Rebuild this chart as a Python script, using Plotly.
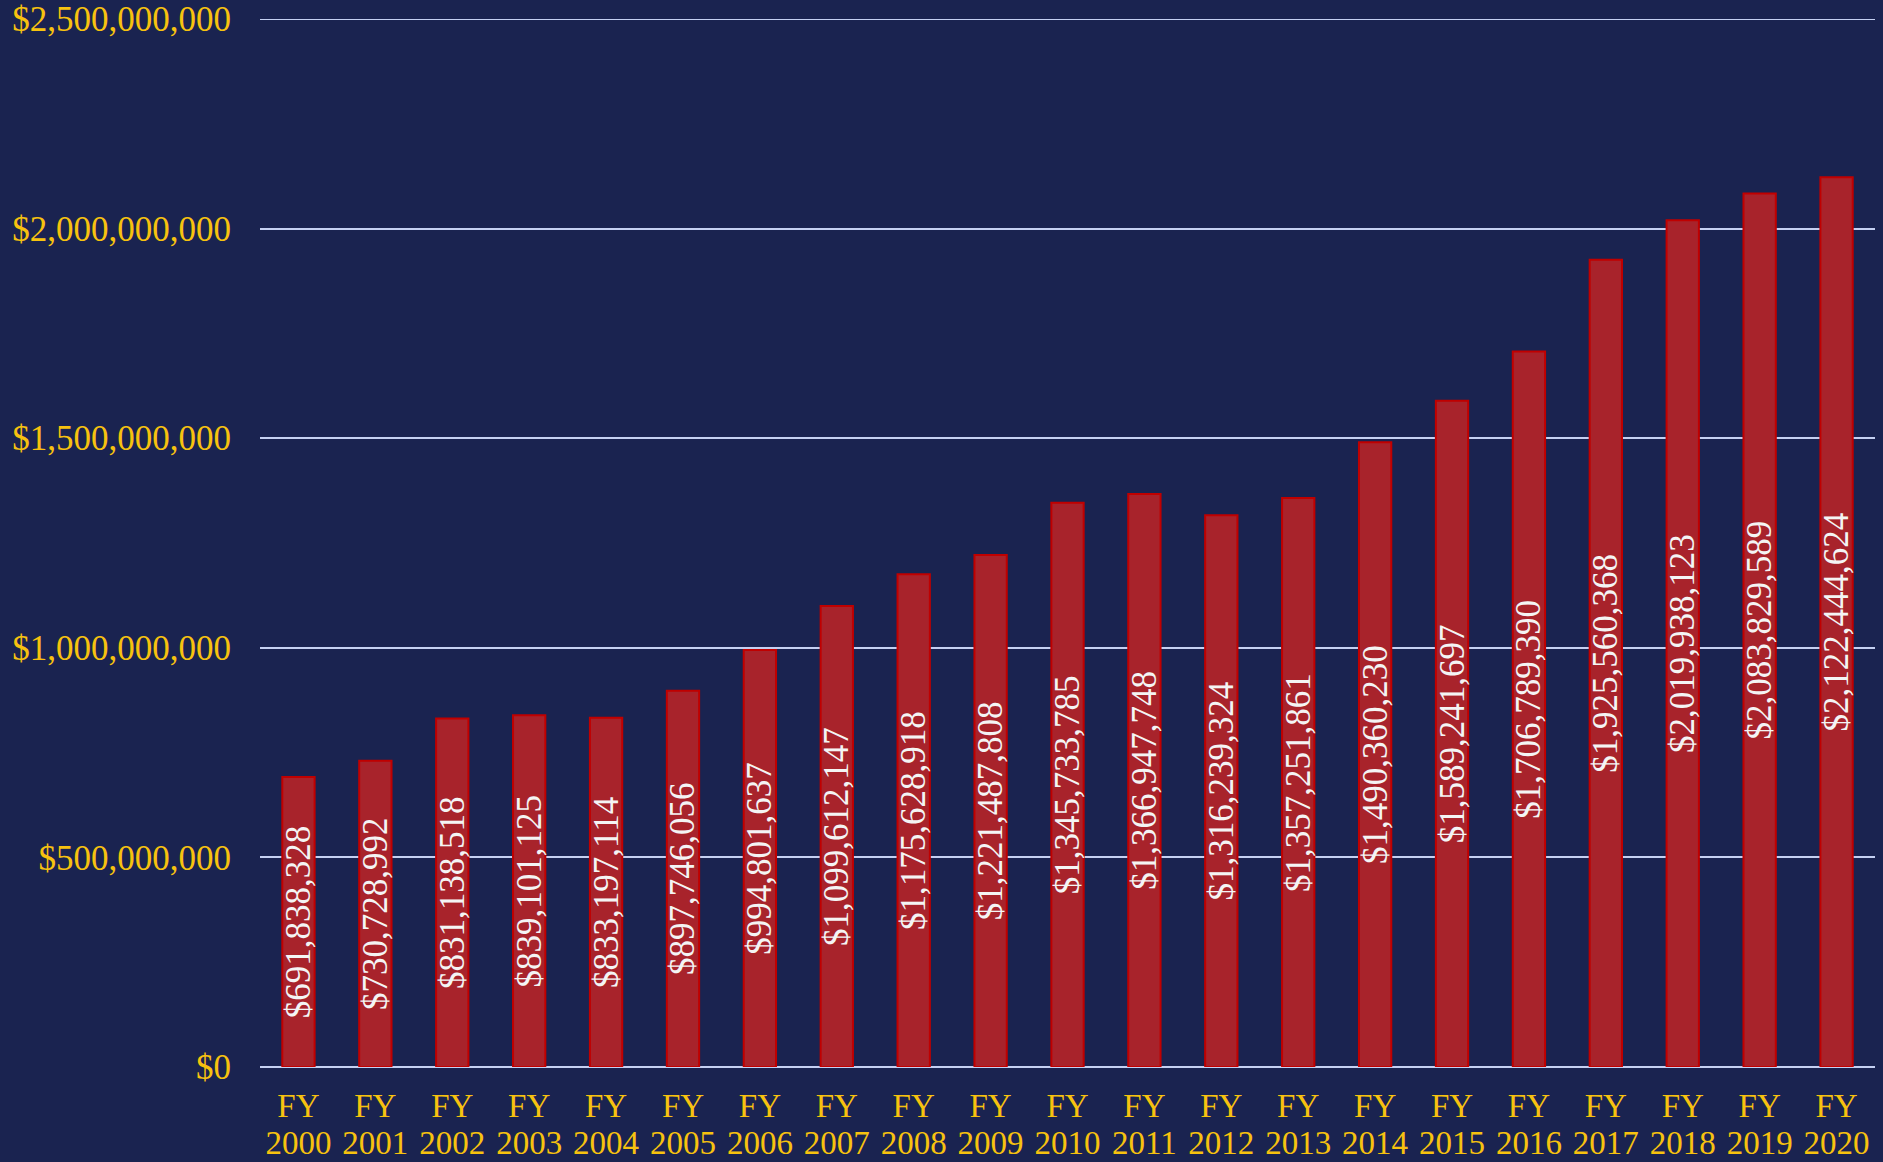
import plotly.graph_objects as go

fy_labels = ["FY"] * 21
years = ["2000", "2001", "2002", "2003", "2004", "2005", "2006", "2007", "2008", "2009", "2010",
         "2011", "2012", "2013", "2014", "2015", "2016", "2017", "2018", "2019", "2020"]
values = [691838328, 730728992, 831138518, 839101125, 833197114, 897746056,
          994801637, 1099612147, 1175628918, 1221487808, 1345733785, 1366947748,
          1316239324, 1357251861, 1490360230, 1589241697, 1706789390, 1925560368,
          2019938123, 2083829589, 2122444624]
tick_vals = [0, 500000000, 1000000000, 1500000000, 2000000000, 2500000000]

positions = list(range(len(years)))

BG = "#1a2350"
GOLD = "#f7c20f"
GRID = "#c5d0f2"
FONT = "Liberation Serif"

fig = go.Figure(go.Bar(
    x=positions,
    y=values,
    marker=dict(color="#a8232b", line=dict(color="#c00000", width=2)),
    texttemplate="$%{y:,.0f}",
    textposition="inside",
    insidetextanchor="middle",
    textangle=-90,
    constraintext="none",
    textfont=dict(family=FONT, size=35, color="#f4f4f4"),
    hoverinfo="skip",
))

fig.update_layout(
    width=1883, height=1162,
    paper_bgcolor=BG, plot_bgcolor=BG,
    margin=dict(l=260, r=8, t=19, b=95, autoexpand=False),
    bargap=0.58,
    showlegend=False,
    font=dict(family=FONT, color=GOLD, size=35),
    xaxis=dict(
        range=[-0.5, len(years) - 0.5],
        tickvals=positions, ticktext=fy_labels,
        tickfont=dict(family=FONT, size=33, color=GOLD),
        ticklabelstandoff=16, automargin=False,
        showgrid=False, zeroline=False,
    ),
    xaxis2=dict(
        overlaying="x", side="bottom", anchor="y",
        range=[-0.5, len(years) - 0.5],
        tickvals=positions, ticktext=years,
        tickfont=dict(family=FONT, size=33, color=GOLD),
        ticklabelstandoff=53, automargin=False,
        showgrid=False, zeroline=False,
    ),
    yaxis=dict(
        range=[0, tick_vals[-1]],
        tickvals=tick_vals,
        tickformat="$,.0f",
        showgrid=True, gridcolor=GRID, gridwidth=2,
        zeroline=True, zerolinecolor=GRID, zerolinewidth=2,
        ticklabelstandoff=28, automargin=False,
        tickfont=dict(family=FONT, size=35, color=GOLD),
    ),
)
# top gridline (plotly drops gridlines lying on the plot edge)
fig.add_shape(type="line", xref="paper", yref="y", x0=0, x1=1,
              y0=tick_vals[-1], y1=tick_vals[-1],
              line=dict(color=GRID, width=2), layer="below")
# invisible helper trace so the second x axis (year labels) is drawn
fig.add_trace(go.Scatter(x=positions, y=[None] * len(positions), xaxis="x2", yaxis="y",
                         mode="markers", hoverinfo="skip", showlegend=False))

fig.write_html("out.html", config={"displayModeBar": False, "staticPlot": True},
               post_script="document.body.style.margin='0';document.body.style.overflow='hidden';")
